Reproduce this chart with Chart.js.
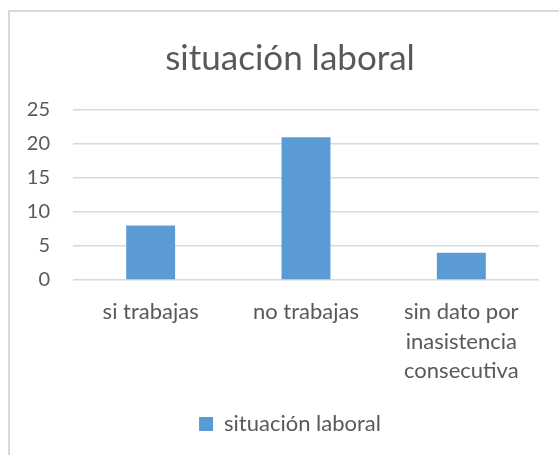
<!DOCTYPE html>
<html>
<head>
<meta charset="utf-8">
<script src="https://cdn.jsdelivr.net/npm/chart.js@4.4.0/dist/chart.umd.min.js"></script>
<style>
  html, body { margin: 0; padding: 0; overflow: hidden; background: #fff; }
  #frame {
    position: absolute; left: 8px; top: 10px;
    width: 560px; height: 460px;
    border: 2px solid #d9d9d9;
  }
  #frame canvas { display: block; }
</style>
</head>
<body>
<div id="frame">
  <canvas id="laboralChart" width="560" height="460"></canvas>
</div>
<script>
// datos
var categorias = ['si trabajas', 'no trabajas', ['sin dato por', 'inasistencia', 'consecutiva']];
var valores = [8, 21, 4];
var serie = 'situación laboral';
var ticksY = [0, 5, 10, 15, 20, 25];

var gris = '#595959';
Chart.defaults.font.family = 'Lato';
Chart.defaults.color = gris;

var ctx = document.getElementById('laboralChart').getContext('2d');

var laboralChart = new Chart(ctx, {
  type: 'bar',
  data: {
    labels: categorias,
    datasets: [
      {
        label: serie,
        data: valores,
        backgroundColor: '#5b9bd5',
        borderWidth: 0,
        barPercentage: 0.315,
        categoryPercentage: 1,
      },
    ],
  },
  options: {
    responsive: false,
    animation: false,
    layout: {
      padding: { left: 0, right: 0, top: 26, bottom: 27 },
    },
    plugins: {
      title: {
        display: true,
        text: serie,
        font: { size: 35, weight: 'normal', lineHeight: 1.2 },
        color: gris,
        padding: { top: 0, bottom: 30 },
      },
      legend: {
        position: 'bottom',
        labels: {
          boxWidth: 14,
          boxHeight: 14,
          font: { size: 22 },
          color: gris,
        },
      },
      tooltip: { enabled: false },
    },
    scales: {
      y: {
        min: 0,
        max: 25,
        afterBuildTicks: function (axis) {
          axis.ticks = ticksY.map(function (v) { return { value: v }; });
        },
        afterFit: function (axis) {
          axis.width = 63;
        },
        border: { display: false },
        grid: { color: '#d9d9d9', lineWidth: 1.5, drawTicks: false },
        ticks: { padding: 23, font: { size: 20 } },
      },
      // eje vacio a la derecha, solo deja el margen
      margen: {
        type: 'linear',
        position: 'right',
        afterFit: function (axis) {
          axis.width = 31;
        },
        border: { display: false },
        grid: { display: false, drawTicks: false },
        ticks: { display: false },
      },
      x: {
        border: { display: false },
        grid: { display: false, drawTicks: false },
        ticks: { padding: 18, maxRotation: 0, font: { size: 22, lineHeight: 1.32 } },
      },
    },
  },
});
</script>
</body>
</html>
